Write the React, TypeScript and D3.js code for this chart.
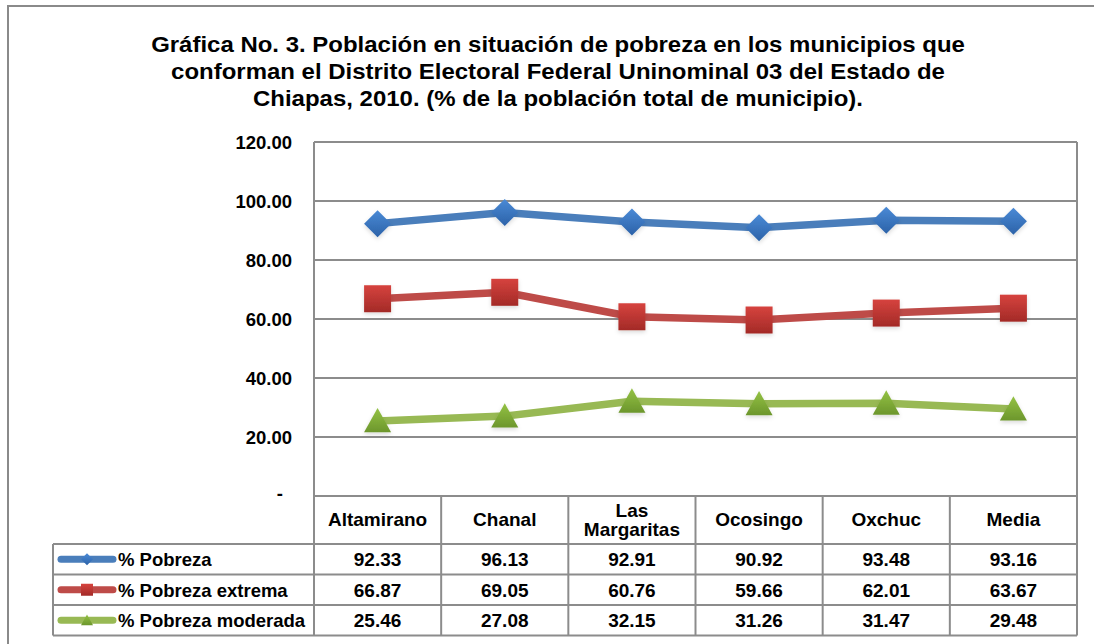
import { useRef, useEffect } from 'react'
import * as d3 from 'd3'

const categories = ['Altamirano', 'Chanal', 'Las Margaritas', 'Ocosingo', 'Oxchuc', 'Media']
const pobreza = [92.33, 96.13, 92.91, 90.92, 93.48, 93.16]
const pobrezaExtrema = [66.87, 69.05, 60.76, 59.66, 62.01, 63.67]
const pobrezaModerada = [25.46, 27.08, 32.15, 31.26, 31.47, 29.48]
const yTicks = [0, 20, 40, 60, 80, 100, 120]
const titleLines = [
  'Gráfica No. 3. Población en situación de pobreza en los municipios que',
  'conforman el Distrito Electoral Federal Uninominal 03 del Estado de',
  'Chiapas, 2010. (% de la población total de municipio).'
]

const series = [
  { name: '% Pobreza', values: pobreza, line: '#4a7ebb', top: '#4a8ad6', bottom: '#2c62a8', shape: 'diamond' },
  { name: '% Pobreza extrema', values: pobrezaExtrema, line: '#be4b48', top: '#d6433e', bottom: '#a32a27', shape: 'square' },
  { name: '% Pobreza moderada', values: pobrezaModerada, line: '#98b954', top: '#94c244', bottom: '#6c962c', shape: 'triangle' }
]

const W = 1094
const H = 644
const FONT = '"Liberation Sans", Arial, sans-serif'

export default function App() {
  const svgRef = useRef<SVGSVGElement>(null)

  useEffect(() => {
    if (!svgRef.current) return
    const svg = d3.select(svgRef.current)
    svg.selectAll('*').remove()

    const plotLeft = 314
    const plotRight = 1077
    const x = d3.scaleBand<string>().domain(categories).range([plotLeft, plotRight]).padding(0)
    const y = d3.scaleLinear().domain([0, 120]).range([496, 142])
    const cx = (c: string) => (x(c) as number) + x.bandwidth() / 2

    // gradients for markers
    const defs = svg.append('defs')
    series.forEach((s, i) => {
      const g = defs.append('linearGradient')
        .attr('id', `grad${i}`)
        .attr('x1', 0).attr('y1', 0).attr('x2', 0).attr('y2', 1)
      g.append('stop').attr('offset', '0%').attr('stop-color', s.top)
      g.append('stop').attr('offset', '100%').attr('stop-color', s.bottom)
    })
    const shadow = defs.append('filter').attr('id', 'shadow')
      .attr('x', '-50%').attr('y', '-50%').attr('width', '200%').attr('height', '200%')
    shadow.append('feDropShadow')
      .attr('dx', 0).attr('dy', 2).attr('stdDeviation', 2)
      .attr('flood-color', '#000').attr('flood-opacity', 0.15)

    // outer frame
    svg.append('rect')
      .attr('x', 8).attr('y', 6)
      .attr('width', W + 20).attr('height', H + 20)
      .attr('fill', '#fff')
      .attr('stroke', '#8a8a8a').attr('stroke-width', 2)

    // title
    svg.append('g').selectAll('text')
      .data(titleLines)
      .enter()
      .append('text')
      .attr('transform', (d, i) => `translate(558,${52 + i * 27}) scale(1.09,1)`)
      .attr('text-anchor', 'middle')
      .style('font-family', FONT)
      .style('font-weight', 'bold')
      .style('font-size', '22px')
      .style('fill', '#000')
      .text(d => d)

    // gridlines
    svg.append('g').selectAll('line')
      .data(yTicks.filter(t => t > 0))
      .enter()
      .append('line')
      .attr('x1', plotLeft).attr('x2', plotRight)
      .attr('y1', d => y(d)).attr('y2', d => y(d))
      .style('stroke', '#8c8c8c')
      .style('stroke-width', 2)

    // y labels
    svg.append('g').selectAll('text')
      .data(yTicks)
      .enter()
      .append('text')
      .attr('x', d => (d === 0 ? 283 : 292))
      .attr('y', d => y(d) + (d === 0 ? 4 : 6.5))
      .attr('text-anchor', 'end')
      .style('font-family', FONT)
      .style('font-weight', 'bold')
      .style('font-size', '18.5px')
      .text(d => (d === 0 ? '-' : d.toFixed(2)))

    // data table
    const rowTop = 544
    const rowH = 30.5
    const tableLeft = 53
    const tableBottom = rowTop + rowH * series.length
    const table = svg.append('g')
    const lineStyle = (sel: any) => sel.style('stroke', '#8c8c8c').style('stroke-width', 2)

    // header and row horizontals
    table.append('line').attr('x1', plotLeft).attr('x2', plotRight).attr('y1', y(0)).attr('y2', y(0)).call(lineStyle)
    d3.range(series.length + 1).forEach(i => {
      table.append('line')
        .attr('x1', tableLeft).attr('x2', plotRight)
        .attr('y1', rowTop + i * rowH).attr('y2', rowTop + i * rowH)
        .call(lineStyle)
    })
    // verticals
    table.append('line').attr('x1', tableLeft).attr('x2', tableLeft).attr('y1', rowTop).attr('y2', tableBottom).call(lineStyle)
    table.append('line').attr('x1', plotLeft).attr('x2', plotLeft).attr('y1', y(120)).attr('y2', tableBottom).call(lineStyle)
    categories.forEach(c => {
      const xr = (x(c) as number) + x.bandwidth()
      table.append('line').attr('x1', xr).attr('x2', xr).attr('y1', xr >= plotRight - 1 ? y(120) : y(0)).attr('y2', tableBottom).call(lineStyle)
    })

    // header labels
    categories.forEach(c => {
      const words = c === 'Las Margaritas' ? ['Las', 'Margaritas'] : [c]
      words.forEach((w, i) => {
        table.append('text')
          .attr('x', cx(c))
          .attr('y', 526 + (i - (words.length - 1) / 2) * 19)
          .attr('text-anchor', 'middle')
          .style('font-family', FONT)
          .style('font-weight', 'bold')
          .style('font-size', '19px')
          .text(w)
      })
    })

    // rows
    series.forEach((s, si) => {
      const ry = rowTop + si * rowH + rowH / 2
      s.values.forEach((v, ci) => {
        table.append('text')
          .attr('x', cx(categories[ci]))
          .attr('y', ry + 7)
          .attr('text-anchor', 'middle')
          .style('font-family', FONT)
          .style('font-weight', 'bold')
          .style('font-size', '19px')
          .text(v.toFixed(2))
      })
      // legend key
      table.append('line')
        .attr('x1', 61).attr('x2', 113)
        .attr('y1', ry).attr('y2', ry)
        .style('stroke', s.line).style('stroke-width', 7).style('stroke-linecap', 'round')
      drawMarker(table, s.shape, 87, ry, 12, `url(#grad${si})`, false)
      table.append('text')
        .attr('x', 118)
        .attr('y', ry + 7)
        .style('font-family', FONT)
        .style('font-weight', 'bold')
        .style('font-size', '18.5px')
        .text(s.name)
    })

    // lines and markers
    const line = d3.line<number>()
      .x((d, i) => cx(categories[i]))
      .y(d => y(d))

    series.forEach((s, si) => {
      svg.append('path')
        .datum(s.values)
        .attr('d', line)
        .style('fill', 'none')
        .style('stroke', s.line)
        .style('stroke-width', 7.5)
        .style('stroke-linejoin', 'round')
      s.values.forEach((v, i) => {
        drawMarker(svg, s.shape, cx(categories[i]), y(v), 27, `url(#grad${si})`, true)
      })
    })

    function drawMarker(parent: any, shape: string, mx: number, my: number, size: number, fill: string, sh: boolean) {
      const h = size / 2
      let pts: number[][]
      if (shape === 'diamond') pts = [[mx, my - h], [mx + h, my], [mx, my + h], [mx - h, my]]
      else if (shape === 'square') pts = [[mx - h, my - h], [mx + h, my - h], [mx + h, my + h], [mx - h, my + h]]
      else pts = [[mx, my - h * 0.95], [mx + h, my + h * 0.85], [mx - h, my + h * 0.85]]
      parent.append('polygon')
        .attr('points', pts.map(p => p.join(',')).join(' '))
        .style('fill', fill)
        .attr('filter', sh ? 'url(#shadow)' : null)
    }
  }, [])

  return (
    <svg
      ref={svgRef}
      width={W}
      height={H}
      style={{ position: 'absolute', left: 0, top: 0, background: '#fff' }}
    />
  )
}
